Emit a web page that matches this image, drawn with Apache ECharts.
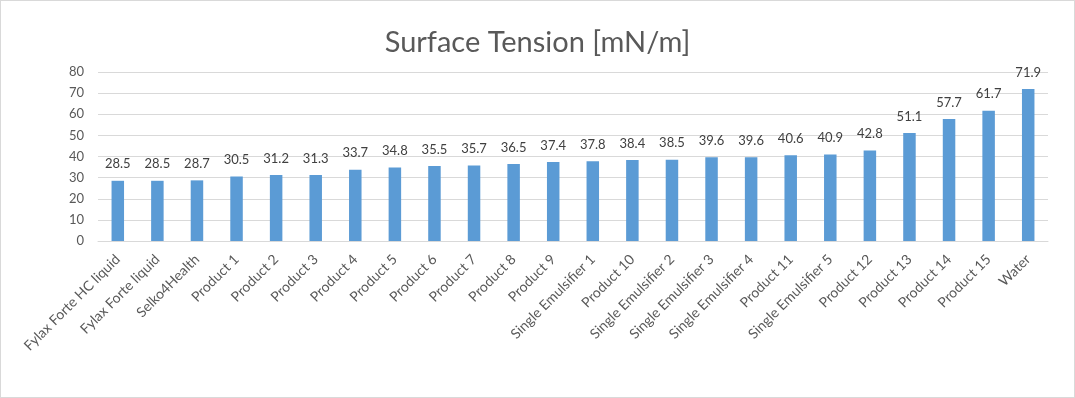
<!DOCTYPE html>
<html>
<head>
<meta charset="utf-8">
<script src="https://cdn.jsdelivr.net/npm/echarts@6/dist/echarts.min.js"></script>
<style>
  html, body { margin: 0; padding: 0; background: #fff; }
  #chart { width: 1075px; height: 398px; box-sizing: border-box; border: 1px solid #d9d9d9; }
</style>
</head>
<body>
<div id="chart"></div>
<script>
// categories and values
var categories = [
  'Fylax Forte HC liquid', 'Fylax Forte liquid', 'Selko4Health',
  'Product 1', 'Product 2', 'Product 3', 'Product 4', 'Product 5',
  'Product 6', 'Product 7', 'Product 8', 'Product 9',
  'Single Emulsifier 1', 'Product 10', 'Single Emulsifier 2',
  'Single Emulsifier 3', 'Single Emulsifier 4', 'Product 11',
  'Single Emulsifier 5', 'Product 12', 'Product 13', 'Product 14',
  'Product 15', 'Water'
];
var tension = [
  28.5, 28.5, 28.7, 30.5, 31.2, 31.3, 33.7, 34.8, 35.5, 35.7, 36.5, 37.4,
  37.8, 38.4, 38.5, 39.6, 39.6, 40.6, 40.9, 42.8, 51.1, 57.7, 61.7, 71.9
];

var font = 'Lato, "Open Sans", sans-serif';

var myChart = echarts.init(document.getElementById('chart'));
myChart.setOption({
  animation: false,
  title: {
    text: 'Surface Tension [mN/m]',
    left: 'center',
    top: 22,
    textStyle: { fontFamily: font, fontSize: 29, fontWeight: 'normal', color: '#595959' }
  },
  grid: { left: 97, right: 26, top: 71, bottom: 156, containLabel: false },
  xAxis: {
    type: 'category',
    data: categories,
    axisLine: { lineStyle: { color: '#d9d9d9', width: 1 } },
    axisTick: { show: false },
    axisLabel: {
      interval: 0,
      rotate: 45,
      margin: 16,
      fontFamily: font,
      fontSize: 14,
      color: '#595959'
    }
  },
  yAxis: {
    type: 'value',
    min: 0,
    max: 80,
    interval: 10,
    axisLine: { show: false },
    axisTick: { show: false },
    splitLine: { lineStyle: { color: '#d9d9d9', width: 1 } },
    axisLabel: { fontFamily: font, fontSize: 13, color: '#595959', margin: 14 }
  },
  series: [{
    type: 'bar',
    data: tension,
    barWidth: 12.5,
    itemStyle: { color: '#5b9bd5' },
    label: {
      show: true,
      position: 'top',
      distance: 10,
      fontFamily: font,
      fontSize: 13,
      color: '#404040'
    }
  }]
});
</script>
</body>
</html>
